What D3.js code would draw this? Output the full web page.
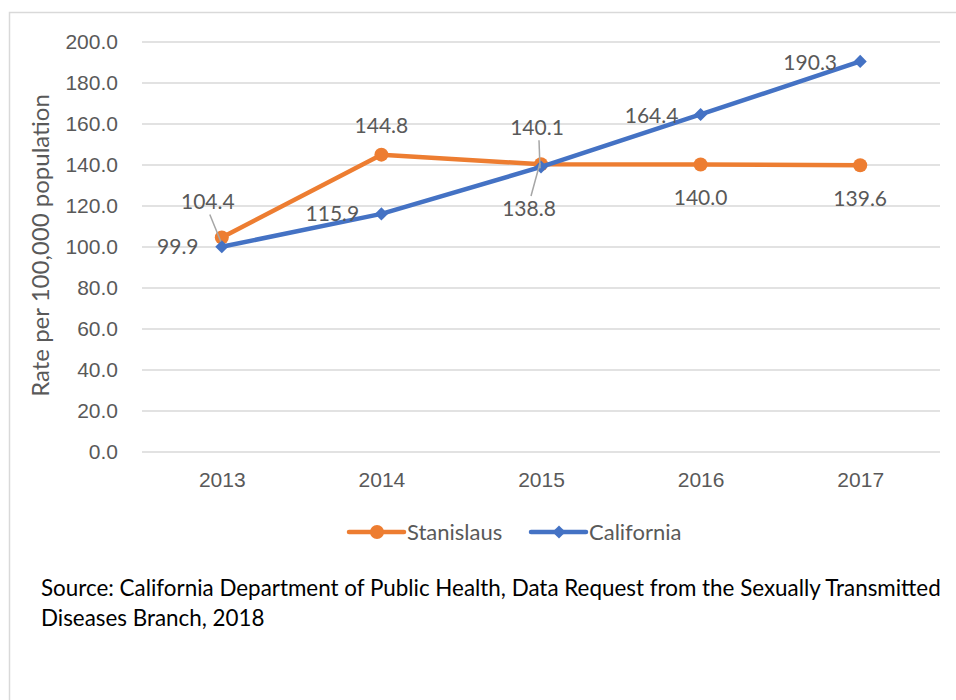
<!DOCTYPE html>
<html>
<head>
<meta charset="utf-8">
<script src="https://cdn.jsdelivr.net/npm/d3@7"></script>
<style>
  body { margin: 0; background: #fff; }
  svg { display: block; font-family: Lato, "Open Sans", sans-serif; }
  .grid line { stroke: #d9d9d9; stroke-width: 1.5; }
  .tick text { fill: #595959; font-size: 21px; }
  .lbl { fill: #595959; font-size: 21px; }
</style>
</head>
<body>
<svg id="chart" width="956" height="700"></svg>
<script>
// chart data
const years = ["2013", "2014", "2015", "2016", "2017"];
const stanislaus = [104.4, 144.8, 140.1, 140.0, 139.6];
const california = [99.9, 115.9, 138.8, 164.4, 190.3];
const yTicks = [0, 20, 40, 60, 80, 100, 120, 140, 160, 180, 200];

// label offsets from their point (dx, dy)
const stanOffsets = [[-14, -36], [0, -29], [-4, -37], [0, 33], [0, 33]];
const caliOffsets = [[-44, 0], [-49, 0], [-12, 42], [-49, 1], [-50, 1]];

const svg = d3.select("#chart");
const margin = {left: 142, right: 16, top: 41.5, bottom: 248.5};
const W = 956, H = 700;

let x = d3.scalePoint().domain(years).range([margin.left, W - margin.right]).padding(0.5);
let y = d3.scaleLinear().domain([0, 200]).range([H - margin.bottom, margin.top]);

// outer frame (runs off the right and bottom edges)
svg.append("rect").attr("x", 9.5).attr("y", 12.5).attr("width", 980).attr("height", 720)
    .attr("fill", "none").attr("stroke", "#d9d9d9").attr("stroke-width", 1.5);

// gridlines + y labels
let yAxis = svg.append("g").attr("class", "grid")
    .attr("transform", "translate(" + margin.left + ",0)")
    .call(d3.axisLeft(y).tickValues(yTicks).tickFormat(d3.format(".1f"))
        .tickSize(-(W - margin.right - margin.left)).tickPadding(24));
yAxis.select(".domain").remove();

// x labels
let xAxis = svg.append("g")
    .attr("transform", "translate(0," + y(0) + ")")
    .call(d3.axisBottom(x).tickSize(0).tickPadding(21));
xAxis.select(".domain").remove();

// axis title
svg.append("text").attr("class", "lbl")
    .attr("transform", "translate(49," + (y(100) - 1) + ") rotate(-90)")
    .attr("text-anchor", "middle").style("font-size", "24px")
    .text("Rate per 100,000 population");

let line = d3.line().x((d, i) => x(years[i])).y(d => y(d));

// Stanislaus series
svg.append("path").datum(stanislaus).attr("d", line)
    .attr("fill", "none").attr("stroke", "#ED7D31").attr("stroke-width", 4.5)
    .attr("stroke-linejoin", "round");
svg.append("g").selectAll("circle").data(stanislaus).enter().append("circle")
    .attr("cx", (d, i) => x(years[i])).attr("cy", d => y(d)).attr("r", 7)
    .attr("fill", "#ED7D31");

// California series
svg.append("path").datum(california).attr("d", line)
    .attr("fill", "none").attr("stroke", "#4472C4").attr("stroke-width", 4.5)
    .attr("stroke-linejoin", "round");
let diamond = d3.symbol().type(d3.symbolDiamond2).size(110);
svg.append("g").selectAll("path").data(california).enter().append("path")
    .attr("d", diamond)
    .attr("transform", (d, i) => "translate(" + x(years[i]) + "," + y(d) + ")")
    .attr("fill", "#4472C4");

// leader lines for crowded labels
function leader(series, offsets, i) {
    let px = x(years[i]), py = y(series[i]);
    let lx = px + offsets[i][0], ly = py + offsets[i][1];
    let dir = Math.sign(offsets[i][1]);
    svg.append("line")
        .attr("x1", lx + 2).attr("y1", ly + dir * -13)
        .attr("x2", px - 1).attr("y2", py + dir * -4)
        .attr("stroke", "#a6a6a6").attr("stroke-width", 1.5);
}
leader(stanislaus, stanOffsets, 0);
leader(stanislaus, stanOffsets, 2);
leader(california, caliOffsets, 2);

// data labels
function labels(series, offsets) {
    svg.append("g").selectAll("text").data(series).enter().append("text")
        .attr("class", "lbl")
        .attr("x", (d, i) => x(years[i]) + offsets[i][0])
        .attr("y", (d, i) => y(d) + offsets[i][1])
        .attr("dy", "0.35em").attr("text-anchor", "middle")
        .text(d => d.toFixed(1));
}
labels(stanislaus, stanOffsets);
labels(california, caliOffsets);

// legend
const legendItems = [
    {name: "Stanislaus", color: "#ED7D31", shape: "circle", x: 349},
    {name: "California", color: "#4472C4", shape: "diamond", x: 531}
];
let legend = svg.append("g").attr("transform", "translate(0,532)");
legendItems.forEach(function (item) {
    let g = legend.append("g").attr("transform", "translate(" + item.x + ",0)");
    g.append("line").attr("x1", 0).attr("x2", 55)
        .attr("stroke", item.color).attr("stroke-width", 4.5).attr("stroke-linecap", "round");
    if (item.shape === "circle") {
        g.append("circle").attr("cx", 28).attr("r", 7).attr("fill", item.color);
    } else {
        g.append("path").attr("d", diamond).attr("transform", "translate(28,0)").attr("fill", item.color);
    }
    g.append("text").attr("class", "lbl").attr("x", 58).attr("dy", "0.35em")
        .style("font-size", "22px").text(item.name);
});

// source note
const source = ["Source: California Department of Public Health, Data Request from the Sexually Transmitted",
    "Diseases Branch, 2018"];
svg.append("g").selectAll("text").data(source).enter().append("text")
    .attr("x", 41).attr("y", (d, i) => 596 + i * 30)
    .style("font-size", "22.4px").attr("fill", "#000")
    .text(d => d);
</script>
</body>
</html>
